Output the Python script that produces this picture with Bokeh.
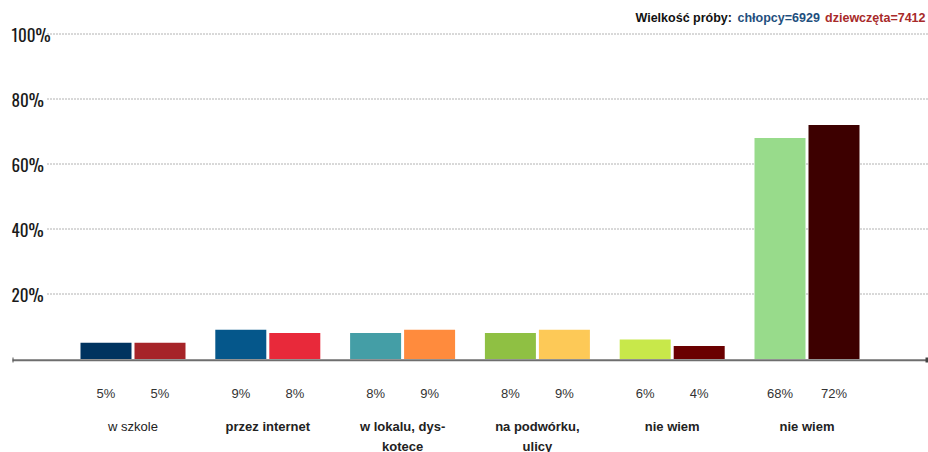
from bokeh.plotting import figure
from bokeh.models import ColumnDataSource, Range1d
from bokeh.core.properties import value
from bokeh.embed import file_html
from bokeh.resources import INLINE

# --- data -------------------------------------------------------------
categories = ["w szkole", "przez internet", "w lokalu, dys-\nkotece",
              "na podwórku,\nulicy", "nie wiem", "nie wiem"]
boys = [5, 9, 8, 8, 6, 68]      # chłopcy, %
girls = [5, 8, 9, 9, 4, 72]     # dziewczęta, %
y_ticks = [20, 40, 60, 80, 100]
y_tick_labels = ["20%", "40%", "60%", "80%", "100%"]
n_boys, n_girls = 6929, 7412

# --- styles -----------------------------------------------------------
boys_colors = ["#00335f", "#05578b", "#449ea6", "#8fc043", "#c8e84a", "#98db8b"]
girls_colors = ["#a62428", "#e8293a", "#ff8b3d", "#fdc957", "#6a0000", "#3d0000"]
cat_styles = ["normal", "bold", "bold", "bold", "bold", "bold"]

W, H = 928, 452
STEP = 134.8          # pixels between group centres
FIRST = 132.5         # pixel x of first group centre
ZERO = 358.5          # pixel y of 0 %
PX_PER_PCT = 3.25

X0, X1 = -FIRST / STEP, (W - FIRST) / STEP
Y0, Y1 = (ZERO - H) / PX_PER_PCT, ZERO / PX_PER_PCT


def sx(px):
    return X0 + px / STEP


def sy(py):
    return (ZERO - py) / PX_PER_PCT


p = figure(width=W, height=H, output_backend="svg", toolbar_location=None,
           x_range=Range1d(X0, X1), y_range=Range1d(Y0, Y1),
           x_axis_type=None, y_axis_type=None, min_border=0,
           outline_line_color=None, background_fill_color="white",
           border_fill_color="white")
p.grid.visible = False

idx = list(range(len(categories)))
off = 27 / STEP
bw = 51 / STEP

# dotted horizontal guides
p.segment(x0=[sx(47)] * len(y_ticks), x1=[sx(W)] * len(y_ticks),
          y0=y_ticks, y1=y_ticks, line_color="#666666", line_width=1,
          line_dash="1 2")

# y tick labels
p.text(x=[sx(11)] * len(y_ticks), y=y_ticks, text=y_tick_labels,
       text_font=value("Oswald"), text_font_size="17px",
       text_color="#1a1a1a", text_align="left", text_baseline="middle")

# bars
src = ColumnDataSource(dict(
    xb=[i - off for i in idx], xg=[i + off for i in idx],
    boys=boys, girls=girls, cb=boys_colors, cg=girls_colors,
    lb=[f"{v}%" for v in boys], lg=[f"{v}%" for v in girls],
    xc=idx, cat=categories, st=cat_styles,
))
p.vbar(x="xb", top="boys", bottom=0, width=bw, fill_color="cb",
       line_color=None, source=src)
p.vbar(x="xg", top="girls", bottom=0, width=bw, fill_color="cg",
       line_color=None, source=src)

# baseline
p.segment(x0=[sx(12)], x1=[sx(W)], y0=[sy(359.8)], y1=[sy(359.8)],
          line_color="#6e6e6e", line_width=2)
p.segment(x0=[sx(12.5)], x1=[sx(12.5)], y0=[sy(357)], y1=[sy(362)],
          line_color="#555555", line_width=1)
p.segment(x0=[sx(926.5)], x1=[sx(926.5)], y0=[sy(357)], y1=[sy(362)],
          line_color="#444444", line_width=3)

# value labels
for xcol, lcol in (("xb", "lb"), ("xg", "lg")):
    p.text(x=xcol, y=sy(392.5), text=lcol, source=src,
           text_font=value("Liberation Sans"), text_font_size="13px",
           text_color="#333333", text_align="center", text_baseline="middle")

# category labels
p.text(x="xc", y=sy(418.5), text="cat", source=src,
       text_font=value("Liberation Sans"), text_font_size="13px",
       text_font_style="st", text_color="#222222", text_align="center",
       text_baseline="top", text_line_height=1.3)

# sample size header
hy = sy(17)
p.text(x=[sx(635)], y=[hy], text=["Wielkość próby:"],
       text_font=value("Liberation Sans"), text_font_size="12.5px",
       text_font_style="bold", text_color="#111111", text_baseline="middle")
p.text(x=[sx(737)], y=[hy], text=[f"chłopcy={n_boys}"],
       text_font=value("Liberation Sans"), text_font_size="12.5px",
       text_font_style="bold", text_color="#1f4f7e", text_baseline="middle")
p.text(x=[sx(925)], y=[hy], text=[f"dziewczęta={n_girls}"],
       text_font=value("Liberation Sans"), text_font_size="12.5px",
       text_font_style="bold", text_color="#a82a2a", text_align="right",
       text_baseline="middle")

open("out.html", "w").write(file_html(p, INLINE))
